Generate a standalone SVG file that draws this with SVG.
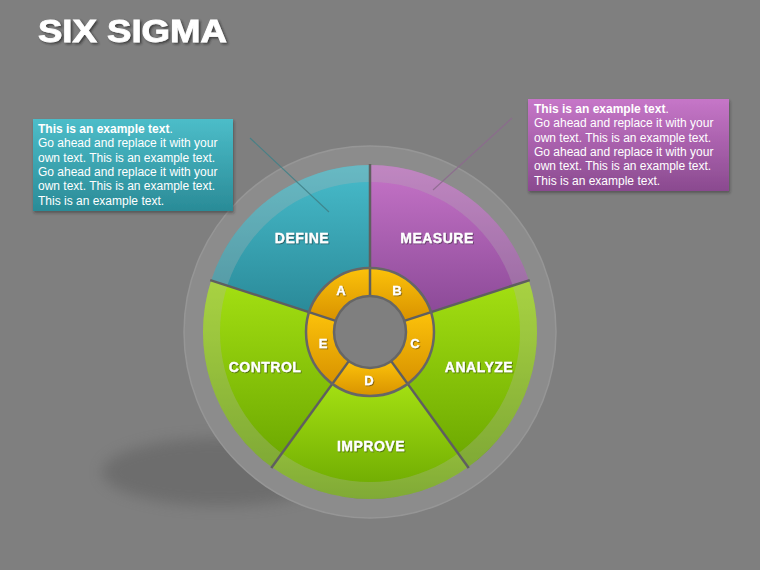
<svg xmlns="http://www.w3.org/2000/svg" width="760" height="570" viewBox="0 0 760 570">
  <defs>
    <linearGradient id="gTeal" x1="0" y1="0" x2="0" y2="1">
      <stop offset="0" stop-color="#48bccb"/>
      <stop offset="1" stop-color="#2a8a99"/>
    </linearGradient>
    <linearGradient id="gPurple" x1="0" y1="0" x2="0" y2="1">
      <stop offset="0" stop-color="#c674c8"/>
      <stop offset="1" stop-color="#8c4a98"/>
    </linearGradient>
    <linearGradient id="gGreen" x1="0" y1="0" x2="0" y2="1">
      <stop offset="0" stop-color="#a4e012"/>
      <stop offset="1" stop-color="#6aa600"/>
    </linearGradient>
    <linearGradient id="gOrange" x1="0" y1="0" x2="0" y2="1">
      <stop offset="0" stop-color="#fcc20a"/>
      <stop offset="1" stop-color="#d89200"/>
    </linearGradient>
    <linearGradient id="gNoteTeal" x1="0" y1="0" x2="0" y2="1">
      <stop offset="0" stop-color="#4cbdc9"/>
      <stop offset="1" stop-color="#2a8b97"/>
    </linearGradient>
    <linearGradient id="gNotePurple" x1="0" y1="0" x2="0" y2="1">
      <stop offset="0" stop-color="#c676c8"/>
      <stop offset="1" stop-color="#8a4a8f"/>
    </linearGradient>
    <filter id="fTitle" x="-10%" y="-30%" width="130%" height="170%">
      <feDropShadow dx="1.5" dy="1.5" stdDeviation="1" flood-color="#222" flood-opacity="0.7"/>
    </filter>
    <filter id="fLabel" x="-10%" y="-30%" width="130%" height="170%">
      <feDropShadow dx="0.8" dy="0.8" stdDeviation="0.6" flood-color="#222" flood-opacity="0.6"/>
    </filter>
    <filter id="fBox" x="-10%" y="-10%" width="130%" height="130%">
      <feDropShadow dx="1" dy="2" stdDeviation="1.5" flood-color="#222" flood-opacity="0.45"/>
    </filter>
    <filter id="fBlur" x="-30%" y="-60%" width="160%" height="220%">
      <feGaussianBlur stdDeviation="7"/>
    </filter>
    <style>
      .lbl { font-family: "Liberation Sans", Arial, sans-serif; font-weight: bold; fill: #ffffff; text-anchor: middle; }
      .seg { font-size: 14px; letter-spacing: 0.5px; filter: url(#fLabel); stroke: #ffffff; stroke-width: 0.3; }
      .ltr { font-size: 13px; filter: url(#fLabel); stroke: #ffffff; stroke-width: 0.3; }
      .note { font-family: "Liberation Sans", Arial, sans-serif; font-size: 12px; fill: #ffffff; }
      .sep { stroke: #5f5f5f; stroke-width: 2.5; fill: none; }
      .ring { stroke: #666666; stroke-width: 2.5; }
    </style>
  </defs>

  <g id="background">
    <rect x="0" y="0" width="760" height="570" fill="#7f7f7f"/>
    <ellipse cx="220" cy="472" rx="118" ry="34" fill="#585858" opacity="0.45" filter="url(#fBlur)"/>
    <circle cx="370" cy="332" r="186" fill="#8c8c8c" stroke="#969696" stroke-width="1.5"/>
  </g>

  <g id="title">
    <text transform="scale(1.18,1)" x="32.2" y="42" font-family="'Liberation Sans', Arial, sans-serif" font-weight="bold" font-size="31" fill="#ffffff" stroke="#ffffff" stroke-width="0.8" filter="url(#fTitle)">SIX SIGMA</text>
  </g>

  <g id="node-define">
    <path d="M 309.13 312.22 L 211.17 280.39 A 167 167 0 0 1 370 165 L 370 268 A 64 64 0 0 0 309.13 312.22 Z" fill="url(#gTeal)"/>
    <text class="lbl seg" x="302" y="243">DEFINE</text>
  </g>
  <g id="node-measure">
    <path d="M 370 268 L 370 165 A 167 167 0 0 1 528.83 280.39 L 430.87 312.22 A 64 64 0 0 0 370 268 Z" fill="url(#gPurple)"/>
    <text class="lbl seg" x="437" y="243">MEASURE</text>
  </g>
  <g id="node-analyze">
    <path d="M 430.87 312.22 L 528.83 280.39 A 167 167 0 0 1 468.16 467.11 L 407.62 383.78 A 64 64 0 0 0 430.87 312.22 Z" fill="url(#gGreen)"/>
    <text class="lbl seg" x="479" y="372">ANALYZE</text>
  </g>
  <g id="node-improve">
    <path d="M 407.62 383.78 L 468.16 467.11 A 167 167 0 0 1 271.84 467.11 L 332.38 383.78 A 64 64 0 0 0 407.62 383.78 Z" fill="url(#gGreen)"/>
    <text class="lbl seg" x="371" y="451">IMPROVE</text>
  </g>
  <g id="node-control">
    <path d="M 332.38 383.78 L 271.84 467.11 A 167 167 0 0 1 211.17 280.39 L 309.13 312.22 A 64 64 0 0 0 332.38 383.78 Z" fill="url(#gGreen)"/>
    <text class="lbl seg" x="265" y="372">CONTROL</text>
  </g>

  <g id="wheel-band">
    <path d="M 370 165 A 167 167 0 1 1 369.99 165 Z M 370 182 A 150 150 0 1 0 370.01 182 Z" fill="#b4b4b4" fill-rule="evenodd" opacity="0.3"/>
  </g>

  <g id="node-a">
    <path d="M 335.76 320.88 L 309.13 312.22 A 64 64 0 0 1 370 268 L 370 296 A 36 36 0 0 0 335.76 320.88 Z" fill="url(#gOrange)"/>
    <text class="lbl ltr" x="341" y="295">A</text>
  </g>
  <g id="node-b">
    <path d="M 370 296 L 370 268 A 64 64 0 0 1 430.87 312.22 L 404.24 320.88 A 36 36 0 0 0 370 296 Z" fill="url(#gOrange)"/>
    <text class="lbl ltr" x="397" y="295">B</text>
  </g>
  <g id="node-c">
    <path d="M 404.24 320.88 L 430.87 312.22 A 64 64 0 0 1 407.62 383.78 L 391.16 361.12 A 36 36 0 0 0 404.24 320.88 Z" fill="url(#gOrange)"/>
    <text class="lbl ltr" x="415" y="348">C</text>
  </g>
  <g id="node-d">
    <path d="M 391.16 361.12 L 407.62 383.78 A 64 64 0 0 1 332.38 383.78 L 348.84 361.12 A 36 36 0 0 0 391.16 361.12 Z" fill="url(#gOrange)"/>
    <text class="lbl ltr" x="369" y="385">D</text>
  </g>
  <g id="node-e">
    <path d="M 348.84 361.12 L 332.38 383.78 A 64 64 0 0 1 309.13 312.22 L 335.76 320.88 A 36 36 0 0 0 348.84 361.12 Z" fill="url(#gOrange)"/>
    <text class="lbl ltr" x="323" y="348">E</text>
  </g>

  <g id="wheel-lines">
    <line class="sep" x1="370" y1="296" x2="370" y2="164"/>
    <line class="sep" x1="404.24" y1="320.88" x2="529.78" y2="280.08"/>
    <line class="sep" x1="391.16" y1="361.12" x2="468.75" y2="467.92"/>
    <line class="sep" x1="348.84" y1="361.12" x2="271.25" y2="467.92"/>
    <line class="sep" x1="335.76" y1="320.88" x2="210.22" y2="280.08"/>
    <circle class="ring" cx="370" cy="332" r="64" fill="none"/>
    <circle class="ring" cx="370" cy="332" r="36" fill="#7f7f7f"/>
  </g>

  <g id="connectors">
    <line x1="250" y1="138" x2="329" y2="212" stroke="#3f8087" stroke-width="1.2" opacity="0.85"/>
    <line x1="512" y1="118" x2="433" y2="190" stroke="#8c6a8e" stroke-width="1.2" opacity="0.85"/>
  </g>

  <g id="node-note-left">
    <rect x="33" y="119" width="200" height="92" fill="url(#gNoteTeal)" filter="url(#fBox)"/>
    <text class="note" x="38" y="133" font-weight="bold">This is an example text<tspan font-weight="normal">.</tspan></text>
    <text class="note" x="38" y="147.3">Go ahead and replace it with your</text>
    <text class="note" x="38" y="161.6">own text. This is an example text.</text>
    <text class="note" x="38" y="175.9">Go ahead and replace it with your</text>
    <text class="note" x="38" y="190.2">own text. This is an example text.</text>
    <text class="note" x="38" y="204.5">This is an example text.</text>
  </g>

  <g id="node-note-right">
    <rect x="528" y="99" width="201" height="92" fill="url(#gNotePurple)" filter="url(#fBox)"/>
    <text class="note" x="534" y="113" font-weight="bold">This is an example text<tspan font-weight="normal">.</tspan></text>
    <text class="note" x="534" y="127.3">Go ahead and replace it with your</text>
    <text class="note" x="534" y="141.6">own text. This is an example text.</text>
    <text class="note" x="534" y="155.9">Go ahead and replace it with your</text>
    <text class="note" x="534" y="170.2">own text. This is an example text.</text>
    <text class="note" x="534" y="184.5">This is an example text.</text>
  </g>
</svg>
